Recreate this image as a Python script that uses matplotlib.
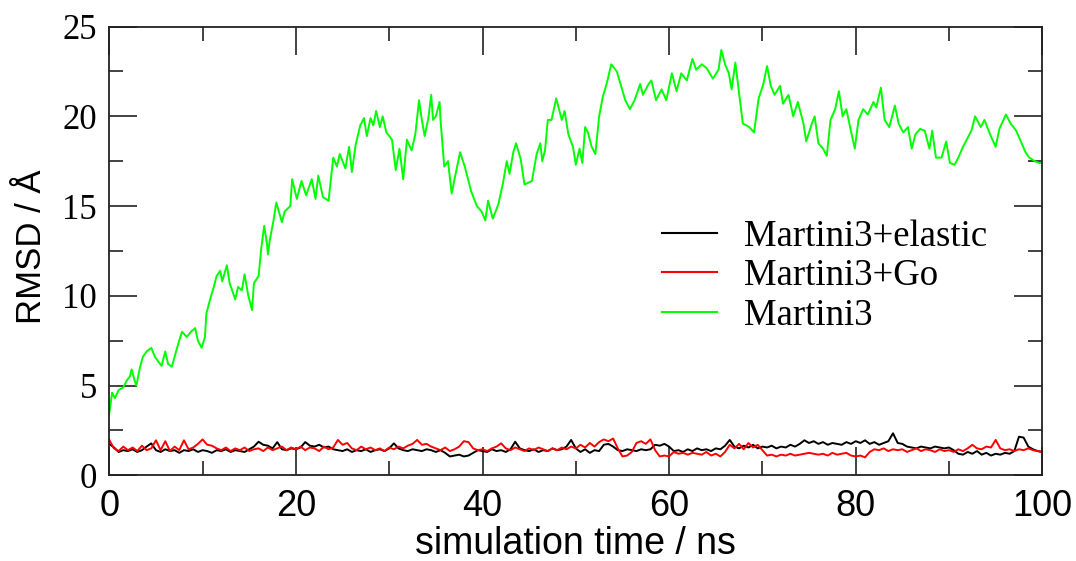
import matplotlib
matplotlib.use("Agg")
import matplotlib.pyplot as plt
from matplotlib.ticker import MultipleLocator

# ---------------- data ----------------
green_t = [0.0, 0.3, 0.6, 1.0, 1.5, 1.9, 2.2, 2.4, 2.7, 2.9, 3.3, 3.6, 4.0, 4.5, 4.9, 5.3, 5.6, 6.0, 6.3, 6.7,
           7.0, 7.4, 7.8, 8.3, 8.75, 9.2, 9.5, 9.9, 10.25, 10.4, 10.8, 11.2, 11.5, 11.9, 12.1, 12.6, 12.9, 13.5, 13.8, 14.2,
           14.5, 14.9, 15.3, 15.5, 16.0, 16.3, 16.6, 16.9, 17.0, 17.2, 17.6, 17.9, 18.5, 18.8, 19.4, 19.6, 20.1, 20.6, 21.1, 21.7,
           22.1, 22.4, 22.9, 23.5, 24.0, 24.4, 24.7, 25.3, 25.7, 26.0, 26.4, 26.9, 27.3, 27.6, 28.0, 28.3, 28.6, 29.0, 29.3, 29.7,
           30.3, 30.7, 31.1, 31.5, 31.9, 32.4, 32.8, 33.2, 33.5, 33.8, 34.2, 34.5, 34.7, 35.0, 35.4, 35.5, 35.9, 36.3, 36.7, 37.0,
           37.6, 38.1, 38.8, 39.4, 39.9, 40.3, 40.6, 41.1, 41.7, 42.2, 42.6, 42.9, 43.3, 43.6, 44.1, 44.5, 45.3, 45.8, 46.2, 46.4,
           46.7, 47.0, 47.4, 47.9, 48.5, 48.8, 49.2, 49.7, 50.0, 50.4, 50.7, 51.0, 51.3, 51.7, 52.1, 52.5, 52.9, 53.3, 53.8, 54.4,
           54.9, 55.3, 55.8, 56.3, 56.9, 57.2, 57.8, 58.1, 58.6, 59.2, 59.7, 60.3, 60.8, 61.3, 61.9, 62.5, 62.9, 63.5, 64.0, 64.7,
           65.3, 65.6, 66.0, 66.4, 66.7, 67.1, 67.6, 67.9, 68.6, 69.1, 69.6, 70.1, 70.5, 70.9, 71.3, 71.9, 72.2, 72.8, 73.3, 73.8,
           74.4, 74.7, 75.3, 75.6, 76.0, 76.5, 76.9, 77.3, 77.8, 78.2, 78.6, 79.0, 79.4, 79.9, 80.3, 80.8, 81.3, 81.9, 82.2, 82.7,
           83.1, 83.6, 84.2, 84.6, 85.1, 85.6, 86.0, 86.4, 86.9, 87.4, 87.9, 88.2, 88.6, 89.2, 89.7, 90.1, 90.6, 91.0, 91.5, 91.9,
           92.4, 92.8, 93.4, 93.8, 94.4, 95.0, 95.4, 96.1, 96.6, 97.2, 97.7, 98.2, 98.6, 99.2, 99.7, 100.0]
green_v = [3.45, 4.6, 4.3, 4.75, 4.9, 5.3, 5.5, 5.9, 5.3, 5.0, 6.05, 6.6, 6.9, 7.1, 6.6, 6.3, 6.1, 6.9, 6.2, 6.05,
           6.6, 7.35, 8.0, 7.7, 8.0, 8.2, 7.5, 7.1, 7.7, 9.0, 9.8, 10.5, 11.1, 11.4, 10.8, 11.7, 10.7, 9.8, 10.5, 10.3,
           11.2, 10.0, 9.2, 10.7, 11.1, 12.7, 13.9, 12.9, 12.3, 13.1, 14.2, 15.2, 14.1, 14.7, 15.0, 16.5, 15.4, 16.4, 15.6, 16.5,
           15.4, 16.7, 15.5, 15.3, 17.7, 17.2, 17.9, 17.1, 18.3, 16.9, 18.4, 19.5, 19.9, 18.9, 19.9, 19.5, 20.3, 19.4, 20.0, 19.1,
           18.7, 17.0, 18.2, 16.5, 18.7, 18.1, 19.0, 20.9, 19.8, 18.9, 19.9, 21.2, 19.8, 20.0, 20.8, 19.8, 17.2, 17.5, 15.7, 16.5,
           18.0, 17.2, 15.8, 15.0, 14.7, 14.2, 15.3, 14.3, 15.1, 16.3, 17.5, 16.8, 18.0, 18.5, 17.6, 16.2, 16.4, 17.9, 18.5, 17.5,
           18.1, 19.8, 19.8, 21.0, 19.8, 20.3, 19.0, 18.3, 17.3, 18.2, 17.4, 19.4, 19.1, 18.3, 17.9, 20.0, 21.1, 21.8, 22.9, 22.5,
           21.6, 20.9, 20.4, 20.9, 21.8, 21.2, 21.8, 22.0, 20.9, 21.5, 20.9, 22.4, 21.4, 22.4, 22.0, 23.2, 22.6, 22.9, 22.7, 22.1,
           22.6, 23.7, 22.9, 22.4, 21.5, 23.0, 20.9, 19.6, 19.4, 19.1, 21.0, 21.8, 22.8, 21.7, 21.2, 21.7, 20.7, 21.2, 20.0, 20.8,
           19.6, 18.6, 19.6, 20.0, 18.5, 18.2, 17.8, 19.8, 20.4, 21.4, 20.0, 20.4, 19.4, 18.2, 19.8, 20.4, 20.1, 20.8, 20.5, 21.6,
           19.8, 19.4, 20.6, 19.6, 19.1, 19.4, 18.2, 19.0, 19.3, 19.2, 18.2, 19.2, 17.7, 17.7, 18.6, 17.4, 17.3, 17.7, 18.3, 18.7,
           19.2, 20.0, 19.4, 19.8, 19.0, 18.3, 19.3, 20.1, 19.6, 19.2, 18.6, 18.0, 17.7, 17.5, 17.4, 17.4]

# black and red series sampled every 0.5 ns from 0 to 100 ns
time_ns = [i * 0.5 for i in range(201)]
black_v = [1.75, 1.55, 1.3, 1.4, 1.35, 1.45, 1.3, 1.4, 1.6, 1.78,
           1.4, 1.3, 1.45, 1.35, 1.4, 1.25, 1.4, 1.35, 1.45, 1.3,
           1.4, 1.35, 1.25, 1.4, 1.35, 1.45, 1.3, 1.4, 1.35, 1.3,
           1.45, 1.6, 1.87, 1.7, 1.65, 1.5, 1.85, 1.45, 1.4, 1.5,
           1.45, 1.55, 1.85, 1.65, 1.6, 1.7, 1.55, 1.6, 1.45, 1.4,
           1.35, 1.45, 1.3, 1.4, 1.35, 1.45, 1.3, 1.4, 1.45, 1.35,
           1.5, 1.78, 1.5, 1.4, 1.35, 1.45, 1.4, 1.35, 1.45, 1.4,
           1.3, 1.4, 1.25, 1.05, 1.1, 1.15, 1.05, 1.1, 1.25, 1.4,
           1.35, 1.3, 1.45, 1.35, 1.4, 1.3, 1.45, 1.87, 1.5, 1.4,
           1.35, 1.45, 1.3, 1.4, 1.35, 1.5, 1.4, 1.45, 1.6, 1.97,
           1.5, 1.3, 1.45, 1.25, 1.4, 1.35, 1.7, 1.75, 1.6, 1.4,
           1.35, 1.45, 1.4, 1.35, 1.45, 1.4, 1.45, 1.7, 1.65, 1.75,
           1.6, 1.35, 1.4, 1.3, 1.45, 1.35, 1.5, 1.4, 1.45, 1.35,
           1.5, 1.45, 1.65, 1.97, 1.6, 1.5, 1.65, 1.55, 1.7, 1.5,
           1.6, 1.55, 1.65, 1.5, 1.6, 1.55, 1.7, 1.6, 1.75, 1.95,
           1.8, 1.9, 1.75, 1.85, 1.7, 1.8, 1.75, 1.7, 1.85, 1.75,
           1.9, 1.8, 1.95, 1.75, 1.85, 1.7, 1.8, 1.9, 2.34, 1.8,
           1.75, 1.6, 1.55, 1.5, 1.6, 1.55, 1.5, 1.6, 1.55, 1.5,
           1.55, 1.4, 1.2, 1.15, 1.3, 1.2, 1.35, 1.15, 1.25, 1.1,
           1.2, 1.15, 1.25, 1.2, 1.35, 2.15, 2.1, 1.6, 1.45, 1.35,
           1.3]
red_v = [1.97, 1.5, 1.35, 1.6, 1.4, 1.55, 1.35, 1.65, 1.4, 1.5,
         1.95, 1.4, 1.9, 1.35, 1.6, 1.4, 1.95, 1.45, 1.55, 1.75,
         2.0, 1.7, 1.65, 1.5, 1.4, 1.55, 1.35, 1.5, 1.4, 1.55,
         1.35, 1.45, 1.5, 1.35, 1.55, 1.4, 1.5, 1.6, 1.4, 1.55,
         1.45, 1.6, 1.4, 1.55, 1.5, 1.35, 1.6, 1.45, 1.55, 1.97,
         1.7, 1.8, 1.5, 1.4, 1.6, 1.45, 1.55, 1.4, 1.5, 1.35,
         1.55, 1.45, 1.6, 1.5, 1.65, 1.75, 1.97, 1.7, 1.75, 1.6,
         1.5, 1.4, 1.55, 1.35, 1.45, 1.6, 1.9, 1.85, 1.5, 1.4,
         1.45, 1.35, 1.5, 1.6, 1.78, 1.5, 1.4, 1.55, 1.45, 1.35,
         1.5, 1.4, 1.55, 1.45, 1.35, 1.5, 1.4, 1.55, 1.45, 1.6,
         1.5, 1.7, 1.55, 1.8, 1.6, 1.85, 2.0, 1.9, 2.05, 1.5,
         1.05, 1.1, 1.3, 1.8, 1.9, 1.75, 2.0, 1.4, 1.05, 1.1,
         1.05, 1.3, 1.2, 1.25, 1.15, 1.25, 1.2, 1.15, 1.3, 1.1,
         1.2, 1.05, 1.3, 1.7, 1.5, 1.75, 1.45, 1.8, 1.55, 1.7,
         1.4, 1.1, 1.15, 1.05, 1.15, 1.1, 1.2, 1.1, 1.15, 1.2,
         1.25, 1.2, 1.15, 1.2, 1.1, 1.25, 1.15, 1.2, 1.25, 1.1,
         1.05, 1.1, 1.0, 1.3, 1.45, 1.4, 1.5, 1.35, 1.45, 1.4,
         1.45, 1.3, 1.4, 1.5, 1.35, 1.45, 1.4, 1.3, 1.45, 1.35,
         1.4, 1.3, 1.45, 1.35, 1.5, 1.7, 1.5, 1.45, 1.6, 1.55,
         1.97, 1.5, 1.4, 1.45, 1.35, 1.45, 1.4, 1.5, 1.4, 1.35,
         1.3]

labels = ["Martini3+elastic", "Martini3+Go", "Martini3"]
colors = ["#000000", "#ff0000", "#00ff00"]
x_ticks = [0, 20, 40, 60, 80, 100]
y_ticks = [0, 5, 10, 15, 20, 25]

# ---------------- figure ----------------
W, H = 1076, 561
fig = plt.figure(figsize=(W / 100, H / 100), dpi=100)
ax = fig.add_axes([109.3 / W, 1 - 475.3 / H, (1042.3 - 109.3) / W, (475.3 - 26.6) / H])

lw = 1.4
ax.plot(time_ns, black_v, color=colors[0], lw=lw, label=labels[0])
ax.plot(time_ns, red_v, color=colors[1], lw=lw, label=labels[1])
ax.plot(green_t, green_v, color=colors[2], lw=lw, label=labels[2])

ax.set_xlim(0, 100)
ax.set_ylim(0, 25)
ax.set_xticks(x_ticks)
ax.set_yticks(y_ticks)
ax.xaxis.set_minor_locator(MultipleLocator(10))
ax.yaxis.set_minor_locator(MultipleLocator(2.5))

for s in ax.spines.values():
    s.set_linewidth(1.3)
    s.set_color("#222222")

ax.tick_params(which="both", direction="in", top=True, right=True, color="#222222", width=1.2)
ax.tick_params(which="major", length=20)
ax.tick_params(which="minor", length=10)
ax.tick_params(axis="y", which="major", pad=9, labelsize=25, labelfontfamily="Liberation Serif")
ax.tick_params(axis="x", which="major", pad=10, labelsize=26, labelfontfamily="Liberation Sans")

ax.set_xlabel("simulation time / ns", fontsize=27, family="Liberation Sans")
ax.set_ylabel("RMSD / Å", fontsize=25, family="Liberation Sans")
ax.xaxis.set_label_coords(0.5, -0.112)
ax.yaxis.set_label_coords(-0.066, 0.51)

leg = ax.legend(loc="upper left", bbox_to_anchor=(662 / W, 1 - 219 / H), bbox_transform=fig.transFigure,
                frameon=False, prop={"family": "Liberation Serif", "size": 26.5},
                handlelength=1.5, handletextpad=0.72, labelspacing=0.14, borderpad=0, borderaxespad=0)
for line in leg.get_lines():
    line.set_linewidth(1.5)

fig.savefig("out.png", dpi=100)
